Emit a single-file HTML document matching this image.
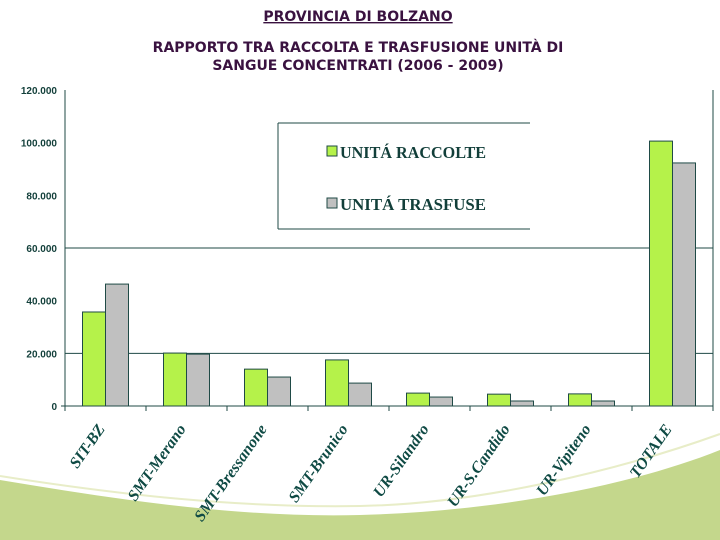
<!DOCTYPE html>
<html><head><meta charset="utf-8"><style>
html,body{margin:0;padding:0;background:#fff;}
svg{display:block;}
</style></head><body>
<svg id="chart" width="720" height="540" viewBox="0 0 720 540" xmlns="http://www.w3.org/2000/svg">
<path d="M0,480 C120,500 240,518 360,515 C480,512 620,490 720,450 L720,540 L0,540 Z" fill="#c4d78c"/>
<path d="M0,476 C120,495 240,508 360,506 C480,504 620,470 720,434" fill="none" stroke="#e8edc8" stroke-width="2"/>
<text x="358" y="21" text-anchor="middle" font-family="Verdana, 'DejaVu Sans', sans-serif" font-weight="bold" font-size="14" fill="#3a1240" text-decoration="underline">PROVINCIA DI BOLZANO</text>
<text x="358" y="52" text-anchor="middle" font-family="Verdana, 'DejaVu Sans', sans-serif" font-weight="bold" font-size="14" fill="#3a1240">RAPPORTO TRA RACCOLTA E TRASFUSIONE UNITÀ DI</text>
<text x="358" y="70" text-anchor="middle" font-family="Verdana, 'DejaVu Sans', sans-serif" font-weight="bold" font-size="14" fill="#3a1240">SANGUE CONCENTRATI (2006 - 2009)</text>
<g id="plot"></g>
</svg>
<script>
const categories = ["SIT-BZ","SMT-Merano","SMT-Bressanone","SMT-Brunico","UR-Silandro","UR-S.Candido","UR-Vipiteno","TOTALE"];
const raccolte = [35700, 20100, 14000, 17500, 4900, 4500, 4600, 100600];
const trasfuse = [46300, 19700, 11000, 8700, 3400, 1900, 1900, 92300];
const yTicks = [0, 20000, 40000, 60000, 80000, 100000, 120000];
const yTickLabels = ["0","20.000","40.000","60.000","80.000","100.000","120.000"];
const gridValues = [20000, 60000];

const NS = "http://www.w3.org/2000/svg";
const g = document.getElementById("plot");
const X0 = 65, X1 = 713, Y0 = 406, Y1 = 90, YMAX = 120000;
const band = (X1 - X0) / categories.length;
function y(v){ return Y0 - (v / YMAX) * (Y0 - Y1); }
function xc(i){ return X0 + band * (i + 0.5); }
function mk(tag, attrs){ const e = document.createElementNS(NS, tag); for (const k in attrs) e.setAttribute(k, attrs[k]); g.appendChild(e); return e; }
const AX = "#1f4a46";

gridValues.forEach(v => {
  const l = mk("line", {x1:X0, x2:X1, y1:y(v), y2:y(v), stroke:AX, "stroke-width":1});
  
  
});

const lg = mk("rect", {x:278, y:123, width:252, height:106, fill:"#fff"});


[[278,123,530,123],[278,229,530,229],[278,123,278,229]].forEach(a => {
  const l = mk("line", {x1:a[0], y1:a[1], x2:a[2], y2:a[3], stroke:AX, "stroke-width":1});
  
  
});
[["UNITÁ RACCOLTE","#b5f24a",146],["UNITÁ TRASFUSE","#c0c0c0",198]].forEach(d => {
  const s = mk("rect", {x:327, y:d[2], width:10, height:10, fill:d[1], stroke:AX, "stroke-width":1});
  
  
  const t = mk("text", {x:340, y:d[2]+12, "font-family":"'Liberation Serif', serif", "font-weight":"bold", "font-size":"17", fill:"#123f3a", textLength:"146", lengthAdjust:"spacingAndGlyphs"});
  t.textContent = d[0];
  
  
});

const bw = 23;
categories.forEach((c, i) => {
  const cx = xc(i);
  const b1 = mk("rect", {x:cx - bw, y:y(raccolte[i]), width:bw, height:Y0 - y(raccolte[i]), fill:"#b5f24a", stroke:AX, "stroke-width":1});
  
  
  const b2 = mk("rect", {x:cx, y:y(trasfuse[i]), width:bw, height:Y0 - y(trasfuse[i]), fill:"#c0c0c0", stroke:AX, "stroke-width":1});
  
  
  const t = mk("text", {x:0, y:0, transform:`translate(${cx},${Y0+23}) rotate(-55)`, "text-anchor":"end", "font-family":"'Liberation Serif', serif", "font-weight":"bold", "font-style":"italic", "font-size":"16", fill:"#0f4a44"});
  t.textContent = c;
  
  
});

const ya = mk("line", {x1:X0, x2:X0, y1:Y1, y2:Y0+4, stroke:AX, "stroke-width":1});


const ra = mk("line", {x1:X1, x2:X1, y1:Y1, y2:Y0+4, stroke:AX, "stroke-width":1});


const xa = mk("line", {x1:X0-4, x2:X1, y1:Y0, y2:Y0, stroke:AX, "stroke-width":1});


for (let i = 0; i <= categories.length; i++) {
  const t = mk("line", {x1:X0 + band*i, x2:X0 + band*i, y1:Y0, y2:Y0+5, stroke:AX, "stroke-width":1});
  
  
}
yTicks.forEach((v, i) => {
  const t = mk("text", {x:57, y:y(v)+4, "text-anchor":"end", "font-family":"'Liberation Sans', sans-serif", "font-weight":"bold", "font-size":"10", fill:"#123f3a"});
  t.textContent = yTickLabels[i];
  
  
});
</script>
</body></html>
